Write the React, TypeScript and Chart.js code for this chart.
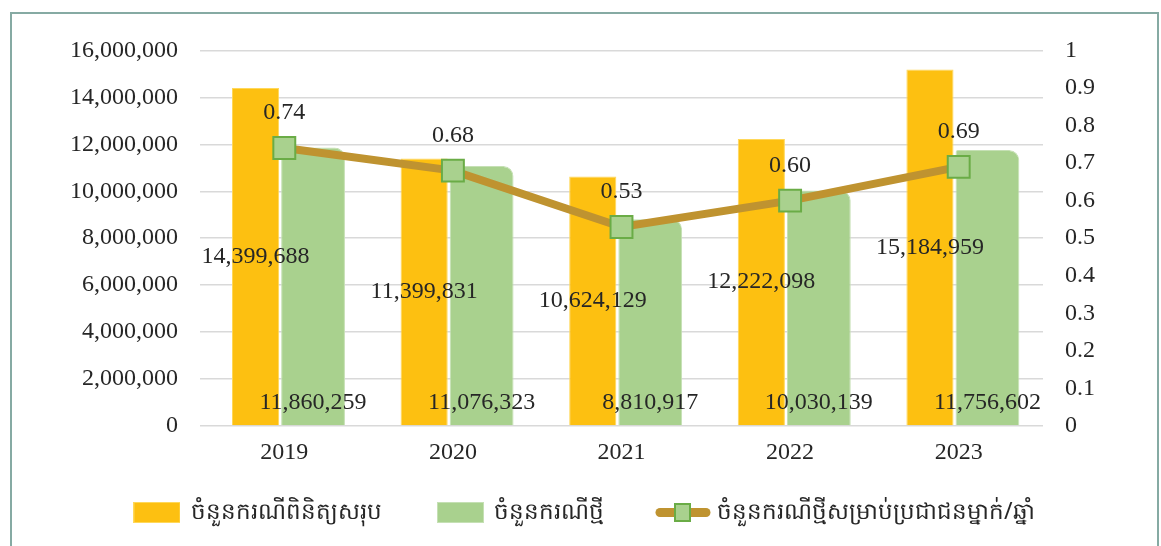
import React, { useEffect, useRef } from 'react';
import { Chart, registerables } from 'chart.js';

Chart.register(...registerables);

const years = ['2019', '2020', '2021', '2022', '2023'];
const totalCases = [14399688, 11399831, 10624129, 12222098, 15184959];
const newCases = [11860259, 11076323, 8810917, 10030139, 11756602];
const perPerson = [0.74, 0.68, 0.53, 0.6, 0.69];
const seriesNames = [
  'ចំនួនករណីពិនិត្យសរុប',
  'ចំនួនករណីថ្មី',
  'ចំនួនករណីថ្មីសម្រាប់ប្រជាជនម្នាក់/ឆ្នាំ',
];

const ORANGE = '#FDC011';
const GREEN = '#A9D18E';
const LINE = '#BF9330';
const MARKER_BORDER = '#6AAC46';
const TEXT = '#262626';
const SERIF = '"Liberation Serif", "Times New Roman", serif';

function makeBox(color: string, border: string) {
  const c = document.createElement('canvas');
  c.width = 47;
  c.height = 21;
  const g = c.getContext('2d')!;
  g.fillStyle = color;
  g.fillRect(0, 0, 47, 21);
  g.strokeStyle = border;
  g.lineWidth = 1;
  g.strokeRect(0.5, 0.5, 46, 20);
  return c;
}

function makeLineSymbol() {
  const c = document.createElement('canvas');
  c.width = 56;
  c.height = 21;
  const g = c.getContext('2d')!;
  g.strokeStyle = LINE;
  g.lineWidth = 9;
  g.lineCap = 'round';
  g.beginPath();
  g.moveTo(5, 10.5);
  g.lineTo(51, 10.5);
  g.stroke();
  g.fillStyle = GREEN;
  g.fillRect(20, 2, 15, 17);
  g.strokeStyle = MARKER_BORDER;
  g.lineWidth = 2;
  g.strokeRect(20, 2, 15, 17);
  return c;
}

const fmt = (v: number) => v.toLocaleString('en-US');

const labelPlugin = {
  id: 'valueLabels',
  afterDatasetsDraw(chart: any) {
    const ctx = chart.ctx;
    ctx.save();
    ctx.font = `24px ${SERIF}`;
    ctx.fillStyle = TEXT;
    ctx.textAlign = 'center';
    ctx.textBaseline = 'middle';
    chart.getDatasetMeta(0).data.forEach((el: any, i: number) => {
      const { x, y, base } = el.getProps(['x', 'y', 'base'], true);
      ctx.fillText(fmt(totalCases[i]), x, (y + base) / 2);
    });
    chart.getDatasetMeta(1).data.forEach((el: any, i: number) => {
      const { x, base } = el.getProps(['x', 'base'], true);
      ctx.fillText(fmt(newCases[i]), x, base - 23);
    });
    chart.getDatasetMeta(2).data.forEach((el: any, i: number) => {
      const { x, y } = el.getProps(['x', 'y'], true);
      ctx.fillText(perPerson[i].toFixed(2), x, y - 35);
    });
    ctx.restore();
  },
};

// moves the legend row up into place after Chart.js has laid out the boxes
const legendShift = {
  id: 'legendShift',
  afterLayout(chart: any) {
    const l = chart.legend;
    if (!l) return;
    l.top -= 31;
  },
};

export default function App() {
  const ref = useRef<HTMLCanvasElement>(null);

  useEffect(() => {
    if (!ref.current) return;
    const symbols = [makeBox(ORANGE, '#FFD85A'), makeBox(GREEN, '#C5E0B4'), makeLineSymbol()];
    const chart = new Chart(ref.current, {
      type: 'bar',
      data: {
        labels: years,
        datasets: [
          {
            label: seriesNames[0],
            data: totalCases,
            backgroundColor: ORANGE,
            borderColor: '#FFD85A',
            borderWidth: 1,
            borderSkipped: 'bottom',
            barPercentage: 0.82,
            categoryPercentage: 0.682,
            yAxisID: 'y',
            order: 1,
          },
          {
            label: seriesNames[1],
            data: newCases,
            backgroundColor: GREEN,
            borderColor: '#C5E0B4',
            borderWidth: 1,
            borderSkipped: 'bottom',
            borderRadius: { topLeft: 2, topRight: 10, bottomLeft: 0, bottomRight: 0 },
            barPercentage: 1.11,
            categoryPercentage: 0.682,
            yAxisID: 'y',
            order: 1,
          },
          {
            type: 'line',
            label: seriesNames[2],
            data: perPerson,
            borderColor: LINE,
            borderWidth: 8,
            pointStyle: 'rect',
            pointRadius: 15.5,
            pointBackgroundColor: GREEN,
            pointBorderColor: MARKER_BORDER,
            pointBorderWidth: 2,
            yAxisID: 'y1',
            order: 0,
          } as any,
        ],
      },
      options: {
        animation: false,
        responsive: false,
        maintainAspectRatio: false,
        layout: { padding: { top: 35, left: 0, right: 0, bottom: 0 } },
        plugins: {
          tooltip: { enabled: false },
          legend: {
            position: 'bottom',
            maxHeight: 70,
            labels: {
              usePointStyle: true,
              pointStyleWidth: 45,
              boxHeight: 21,
              padding: 56,
              color: TEXT,
              font: { size: 23, family: '"Noto Sans", "DejaVu Sans", sans-serif' },
              generateLabels: () =>
                seriesNames.map((t, i) => ({
                  text: t,
                  pointStyle: symbols[i] as any,
                  fillStyle: 'transparent',
                  strokeStyle: 'transparent',
                  lineWidth: 0,
                  hidden: false,
                  datasetIndex: i,
                  fontColor: TEXT,
                })),
            },
          },
        },
        scales: {
          x: {
            grid: { display: false },
            border: { display: false },
            ticks: { color: TEXT, font: { size: 24, family: SERIF }, padding: 4 },
            afterFit: (s: any) => {
              s.height = 50;
            },
          },
          y: {
            position: 'left',
            min: 0,
            max: 16000000,
            ticks: {
              stepSize: 2000000,
              color: TEXT,
              padding: 22,
              font: { size: 24, family: SERIF },
              callback: (v: any) => fmt(Number(v)),
            },
            grid: { color: '#D9D9D9', lineWidth: 1.5, drawTicks: false },
            border: { display: false },
            afterFit: (s: any) => {
              s.width = 188;
            },
          },
          y1: {
            position: 'right',
            min: 0,
            max: 1,
            ticks: {
              stepSize: 0.1,
              color: TEXT,
              padding: 22,
              font: { size: 24, family: SERIF },
              callback: (v: any) => String(Number(Number(v).toFixed(1))),
            },
            grid: { display: false, drawTicks: false },
            border: { display: false },
            afterFit: (s: any) => {
              s.width = 114;
            },
          },
        },
      },
      plugins: [labelPlugin, legendShift],
    } as any);
    return () => chart.destroy();
  }, []);

  return (
    <div
      style={{
        position: 'absolute',
        left: 10,
        top: 12,
        width: 1149,
        height: 540,
        boxSizing: 'border-box',
        border: '2px solid #86aaa3',
        background: '#fff',
      }}
    >
      <canvas ref={ref} width={1145} height={532} style={{ display: 'block' }} />
    </div>
  );
}
